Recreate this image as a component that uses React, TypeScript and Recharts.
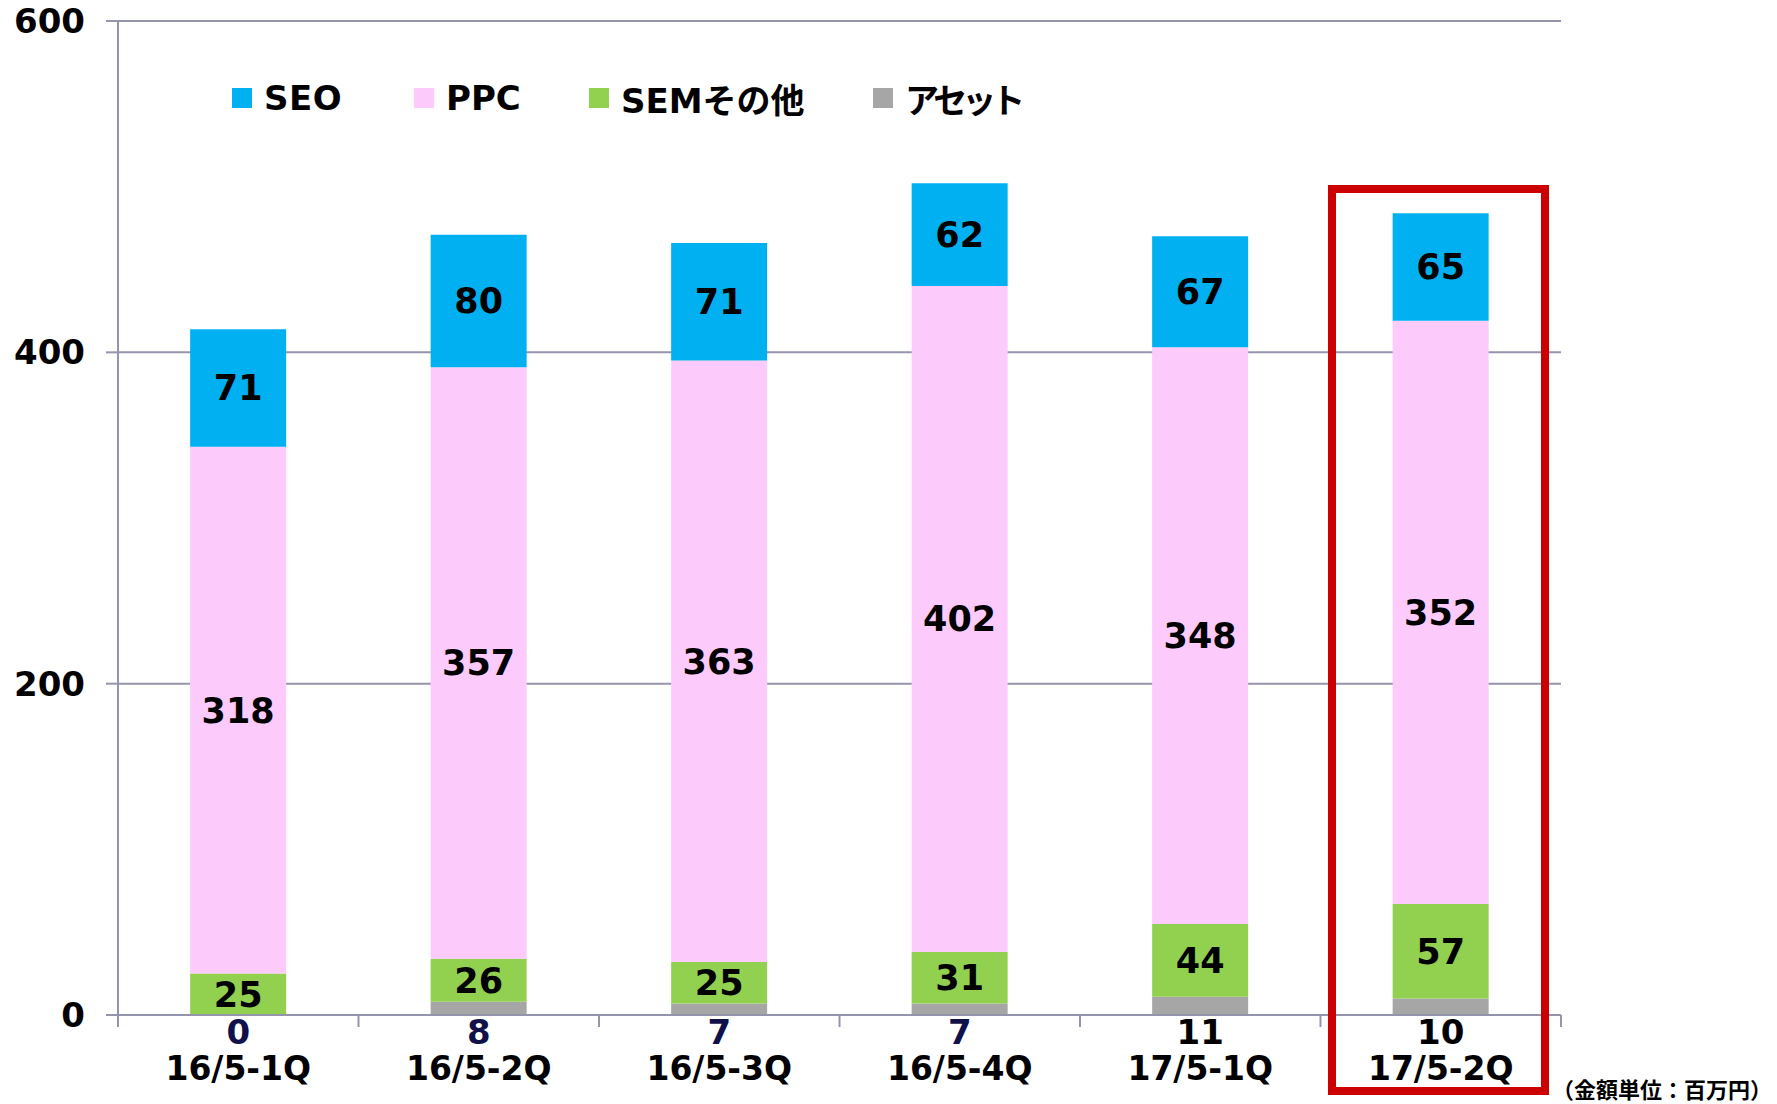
import React from 'react';
import { BarChart, Bar, XAxis, YAxis, CartesianGrid, LabelList } from 'recharts';

const categories = ['16/5-1Q', '16/5-2Q', '16/5-3Q', '16/5-4Q', '17/5-1Q', '17/5-2Q'];
const assetValues = [0, 8, 7, 7, 11, 10];
const semValues = [25, 26, 25, 31, 44, 57];
const ppcValues = [318, 357, 363, 402, 348, 352];
const seoValues = [71, 80, 71, 62, 67, 65];
const yTicks = [0, 200, 400, 600];
const seriesNames = { seo: 'SEO', ppc: 'PPC', sem: 'SEMその他', asset: 'アセット' };
const legendOrder = ['seo', 'ppc', 'sem', 'asset'];
const unitLabel = '（金額単位：百万円）';

const data = categories.map((c, i) => ({
  category: c,
  asset: assetValues[i],
  sem: semValues[i],
  ppc: ppcValues[i],
  seo: seoValues[i],
}));

const W = 1777;
const H = 1104;
const MARGIN = { top: 21, right: 216, left: 0, bottom: 0 };
const Y_AXIS_W = 118;
const X_AXIS_H = 89;
const PLOT_W = W - MARGIN.right - Y_AXIS_W;
const BAND = PLOT_W / categories.length;
const AXIS = '#9494AC';
const FONT = "'DejaVu Sans', 'Noto Sans CJK JP', sans-serif";
const COLORS = { seo: '#00B0F0', ppc: '#FCCBFC', sem: '#92D050', asset: '#A6A6A6' };
const assetLabelColors = ['#10104A', '#10104A', '#10104A', '#10104A', '#000000', '#000000'];
const legendX = [232, 414, 589, 873];
const legendSpacing = [0.5, 0, 0, -5];

function CategoryTick(props: any) {
  const { x, y, payload } = props;
  const i = payload.index;
  const half = BAND / 2;
  return (
    <g>
      <line x1={x - half} x2={x - half} y1={y} y2={y + 12} stroke={AXIS} strokeWidth={2} />
      {i === categories.length - 1 && (
        <line x1={x + half} x2={x + half} y1={y} y2={y + 12} stroke={AXIS} strokeWidth={2} />
      )}
      <text x={x} y={y + 17} textAnchor="middle" dominantBaseline="central" fill={assetLabelColors[i]}
        fontSize={34} fontWeight="bold" fontFamily={FONT}>{assetValues[i]}</text>
      <text x={x} y={y + 53} textAnchor="middle" dominantBaseline="central" fill="#000"
        fontSize={33} fontWeight="bold" fontFamily={FONT}>{payload.value}</text>
    </g>
  );
}

function LegendBlock() {
  return (
    <div style={{ position: 'absolute', left: 0, top: 0, width: W, height: 140, pointerEvents: 'none' }}>
      {legendOrder.map((k, idx) => (
        <div key={k} style={{ position: 'absolute', left: legendX[idx], top: 98 - 25, height: 50, display: 'flex', alignItems: 'center', whiteSpace: 'nowrap' }}>
          <div style={{ width: 20, height: 20, background: (COLORS as any)[k], marginRight: 12 }} />
          <span style={{ fontFamily: FONT, fontWeight: 'bold', fontSize: 34, color: '#000', letterSpacing: legendSpacing[idx] }}>{(seriesNames as any)[k]}</span>
        </div>
      ))}
    </div>
  );
}

export default function App() {
  const labelStyle = { fill: '#000', fontSize: 35, fontWeight: 'bold', fontFamily: FONT } as any;
  return (
    <div style={{ position: 'absolute', left: 0, top: 0, width: W, height: H, background: '#fff', overflow: 'hidden' }}>
      <BarChart width={W} height={H} data={data} margin={MARGIN} barCategoryGap="30%">
        <CartesianGrid vertical={false} stroke={AXIS} strokeWidth={2} />
        <XAxis dataKey="category" interval={0} height={X_AXIS_H} tickLine={false} tickSize={0} tickMargin={0}
          axisLine={{ stroke: AXIS, strokeWidth: 2 }} tick={<CategoryTick />} />
        <YAxis type="number" domain={[0, 600]} ticks={yTicks} width={Y_AXIS_W} tickSize={12} tickMargin={21}
          axisLine={{ stroke: AXIS, strokeWidth: 2 }} tickLine={{ stroke: AXIS, strokeWidth: 2 }}
          tick={{ fill: '#000', fontSize: 34, fontWeight: 'bold', fontFamily: FONT }} />
        <Bar dataKey="asset" stackId="a" name={seriesNames.asset} fill={COLORS.asset} isAnimationActive={false} />
        <Bar dataKey="sem" stackId="a" name={seriesNames.sem} fill={COLORS.sem} isAnimationActive={false}>
          <LabelList dataKey="sem" position="center" style={labelStyle} />
        </Bar>
        <Bar dataKey="ppc" stackId="a" name={seriesNames.ppc} fill={COLORS.ppc} isAnimationActive={false}>
          <LabelList dataKey="ppc" position="center" style={labelStyle} />
        </Bar>
        <Bar dataKey="seo" stackId="a" name={seriesNames.seo} fill={COLORS.seo} isAnimationActive={false}>
          <LabelList dataKey="seo" position="center" style={labelStyle} />
        </Bar>
      </BarChart>
      <LegendBlock />
      <div style={{ position: 'absolute', left: 1328, top: 185, width: 221, height: 910, boxSizing: 'border-box', border: '8px solid #CC0000', pointerEvents: 'none' }} />
      <div style={{ position: 'absolute', left: 1552, top: 1077, fontFamily: FONT, fontWeight: 'bold', fontSize: 22, whiteSpace: 'nowrap', color: '#000', lineHeight: '28px' }}>{unitLabel}</div>
    </div>
  );
}
